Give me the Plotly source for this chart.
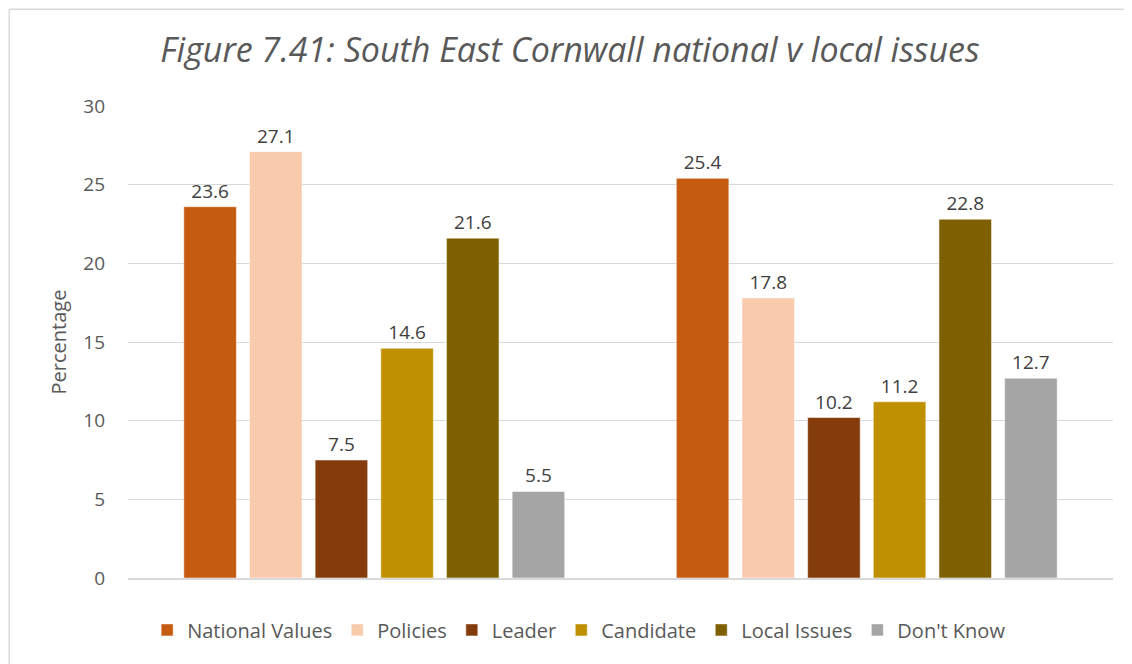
import plotly.graph_objects as go

# dados
grupos = ["Group 1", "Group 2"]
series = ["National Values", "Policies", "Leader", "Candidate", "Local Issues", "Don't Know"]
national_values = [23.6, 25.4]
policies = [27.1, 17.8]
leader = [7.5, 10.2]
candidate = [14.6, 11.2]
local_issues = [21.6, 22.8]
dont_know = [5.5, 12.7]
y_ticks = [0, 5, 10, 15, 20, 25, 30]

valores = [national_values, policies, leader, candidate, local_issues, dont_know]
cores = ["#C55A11", "#F8CBAD", "#843C0C", "#BF9000", "#7F6000", "#A5A5A5"]

fig = go.Figure()
for nome, vals, cor in zip(series, valores, cores):
    fig.add_trace(go.Bar(
        x=grupos, y=vals, name=nome,
        marker=dict(color=cor, line=dict(color="white", width=0.5)),
        text=[f"{v:.1f}" for v in vals],
        textposition="outside",
        textfont=dict(size=19, color="#404040", family="Open Sans"),
        cliponaxis=False,
    ))

# página tem margem de 8px no body -> figura um pouco menor
fig.update_layout(
    title=dict(
        text="<i>Figure 7.41: South East Cornwall national v local issues</i>",
        x=0.5, xanchor="center", y=0.936, yanchor="middle",
        font=dict(size=34, color="#595959", family="Open Sans"),
    ),
    width=1124, height=656,
    paper_bgcolor="white", plot_bgcolor="white",
    font=dict(family="Open Sans", color="#595959"),
    barmode="group", bargap=0.2, bargroupgap=0.2,
    margin=dict(t=98, b=86, l=120, r=19),
    legend=dict(
        orientation="h", x=0.458, xanchor="center", y=-0.11, yanchor="middle",
        font=dict(size=20, color="#595959"),
        traceorder="normal", itemwidth=30,
    ),
    shapes=[
        dict(type="line", xref="paper", yref="paper", x0=-0.1205, x1=-0.1205,
             y0=-0.2, y1=1.205, line=dict(color="#D9D9D9", width=1.5)),
        dict(type="line", xref="paper", yref="paper", x0=-0.1205, x1=1.03,
             y0=1.205, y1=1.205, line=dict(color="#D9D9D9", width=1.5)),
    ],
)

fig.update_xaxes(showticklabels=False, showline=True, linecolor="#D9D9D9", linewidth=1.5)
fig.update_yaxes(
    range=[0, 30], tickvals=y_ticks, gridcolor="#D9D9D9", gridwidth=1,
    tickfont=dict(size=19, color="#595959"), zeroline=False,
    ticklabelstandoff=22,
    title=dict(text="Percentage", font=dict(size=20, color="#595959"), standoff=11),
    ticks="", ticklen=0,
)

fig.write_html("out.html")
